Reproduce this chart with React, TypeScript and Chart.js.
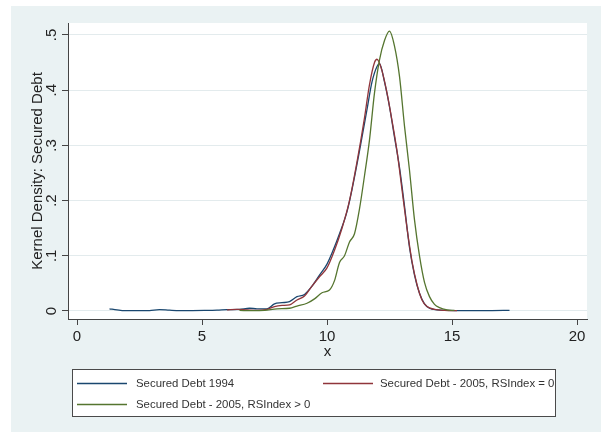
import React, { useEffect, useRef } from 'react';
import { Chart, registerables } from 'chart.js';

Chart.register(...registerables);

const xTicks = [0, 5, 10, 15, 20];
const yTicks = [0, 0.1, 0.2, 0.3, 0.4, 0.5];
const yTickLabels = ['0', '.1', '.2', '.3', '.4', '.5'];

const seriesNames = [
  'Secured Debt 1994',
  'Secured Debt - 2005, RSIndex = 0',
  'Secured Debt - 2005, RSIndex > 0',
];
const seriesColors = ['#1a476f', '#90353b', '#55752f'];

const blueX = [1.3, 1.6, 1.9, 2.4, 2.9, 3.3, 3.7, 4.1, 4.6, 5.1, 5.6, 6.0, 6.5, 6.9, 7.2, 7.6, 7.9, 8.2, 8.5, 8.8, 9.1, 9.4, 9.7, 10.0, 10.2, 10.5, 10.8, 11.0, 11.3, 11.6, 11.8, 12.0, 12.1, 12.3, 12.5, 12.7, 12.9, 13.1, 13.3, 13.5, 13.7, 13.9, 14.1, 14.4, 14.8, 15.4, 16.0, 16.6, 17.3];
const blueY = [0.004, 0.002, 0.0005, 0.0005, 0.0008, 0.0025, 0.0015, 0.0008, 0.0008, 0.001, 0.0015, 0.0025, 0.003, 0.005, 0.004, 0.004, 0.013, 0.015, 0.017, 0.026, 0.03, 0.045, 0.065, 0.085, 0.105, 0.14, 0.18, 0.22, 0.29, 0.365, 0.415, 0.443, 0.448, 0.415, 0.37, 0.315, 0.26, 0.19, 0.115, 0.065, 0.032, 0.013, 0.005, 0.002, 0.001, 0.0005, 0.0005, 0.0008, 0.0012];

const redX = [6.0, 6.4, 6.8, 7.2, 7.6, 7.9, 8.2, 8.5, 8.8, 9.1, 9.4, 9.7, 10.0, 10.3, 10.6, 10.9, 11.2, 11.5, 11.7, 11.9, 12.0, 12.2, 12.4, 12.6, 12.8, 13.0, 13.2, 13.4, 13.6, 13.8, 14.0, 14.3, 14.7, 15.2];
const redY = [0.002, 0.003, 0.002, 0.001, 0.003, 0.008, 0.01, 0.011, 0.02, 0.027, 0.045, 0.062, 0.078, 0.11, 0.15, 0.2, 0.27, 0.35, 0.41, 0.45, 0.456, 0.435, 0.395, 0.345, 0.29, 0.22, 0.15, 0.09, 0.048, 0.02, 0.008, 0.003, 0.001, 0.0005];

const greenX = [6.5, 7.0, 7.5, 8.0, 8.5, 8.8, 9.2, 9.5, 9.8, 10.1, 10.3, 10.5, 10.7, 10.9, 11.1, 11.3, 11.5, 11.7, 11.9, 12.1, 12.3, 12.5, 12.7, 12.9, 13.1, 13.3, 13.5, 13.7, 13.9, 14.1, 14.3, 14.5, 14.8, 15.1];
const greenY = [0.001, 0.0005, 0.001, 0.004, 0.005, 0.009, 0.014, 0.022, 0.033, 0.038, 0.055, 0.088, 0.1, 0.125, 0.14, 0.185, 0.245, 0.31, 0.395, 0.455, 0.49, 0.507, 0.48, 0.425, 0.335, 0.255, 0.165, 0.1, 0.052, 0.026, 0.012, 0.006, 0.002, 0.001];

const FONT = '"Liberation Sans", Arial, sans-serif';

const toPoints = (xs: number[], ys: number[]) => xs.map((x, i) => ({ x, y: ys[i] }));

const bgPlugin = {
  id: 'stataBg',
  beforeDraw(chart: any) {
    const { ctx, chartArea, width, height } = chart;
    ctx.save();
    ctx.fillStyle = '#ffffff';
    ctx.fillRect(0, 0, width, height);
    ctx.fillStyle = '#eaf2f3';
    ctx.fillRect(11, 6, width - 11, height - 6);
    ctx.fillStyle = '#ffffff';
    ctx.fillRect(chartArea.left, chartArea.top, chartArea.right - chartArea.left, chartArea.bottom - chartArea.top);
    ctx.restore();
  },
};

const legendPlugin = {
  id: 'stataLegend',
  afterDraw(chart: any) {
    const { ctx } = chart;
    const box = { l: 72, t: 369, r: 556, b: 417 };
    const slots = [
      { lx: 77, ty: 383, tx: 136 },
      { lx: 323, ty: 383, tx: 380 },
      { lx: 77, ty: 404, tx: 136 },
    ];
    ctx.save();
    ctx.fillStyle = '#ffffff';
    ctx.fillRect(box.l, box.t, box.r - box.l, box.b - box.t);
    ctx.beginPath();
    ctx.rect(box.l, box.t, box.r - box.l, box.b - box.t);
    ctx.clip();
    chart.data.datasets.forEach((ds: any, i: number) => {
      const s = slots[i];
      ctx.strokeStyle = ds.borderColor;
      ctx.lineWidth = 1.5;
      ctx.beginPath();
      ctx.moveTo(s.lx, s.ty + 0.5);
      ctx.lineTo(s.lx + 50, s.ty + 0.5);
      ctx.stroke();
      ctx.fillStyle = '#333333';
      ctx.font = `11.4px ${FONT}`;
      ctx.textBaseline = 'middle';
      ctx.textAlign = 'left';
      ctx.fillText(ds.label, s.tx, s.ty + 1);
    });
    ctx.restore();
    ctx.save();
    ctx.strokeStyle = '#4a4a4a';
    ctx.lineWidth = 1;
    ctx.strokeRect(box.l + 0.5, box.t + 0.5, box.r - box.l - 1, box.b - box.t - 1);
    ctx.restore();
  },
};

export default function App() {
  const ref = useRef<HTMLCanvasElement | null>(null);

  useEffect(() => {
    document.body.style.margin = '0';
    const canvas = ref.current;
    if (!canvas) return;
    const xs = [blueX, redX, greenX];
    const ys = [blueY, redY, greenY];
    const chart = new Chart(canvas, {
      type: 'line',
      data: {
        datasets: seriesNames.map((name, i) => ({
          label: name,
          data: toPoints(xs[i], ys[i]),
          borderColor: seriesColors[i],
          backgroundColor: seriesColors[i],
          borderWidth: 1.3,
          pointRadius: 0,
          fill: false,
          cubicInterpolationMode: 'monotone' as const,
          order: 2 - i,
        })),
      },
      options: {
        animation: false,
        responsive: false,
        devicePixelRatio: 1,
        layout: { padding: { left: 0, right: 14, top: 23, bottom: 68 } },
        plugins: {
          legend: { display: false },
          tooltip: { enabled: false },
        },
        scales: {
          x: {
            type: 'linear',
            min: -0.36,
            max: 20.4,
            afterBuildTicks: (s: any) => {
              s.ticks = xTicks.map((v) => ({ value: v }));
            },
            afterFit: (s: any) => {
              s.height = 45;
            },
            ticks: {
              autoSkip: false,
              maxRotation: 0,
              padding: 3,
              color: '#222222',
              font: { family: FONT, size: 15 },
            },
            grid: {
              drawOnChartArea: false,
              tickLength: 6,
              tickColor: '#444444',
            },
            border: { display: true, color: '#444444', width: 1 },
            title: {
              display: true,
              text: 'x',
              color: '#222222',
              font: { family: FONT, size: 15 },
              padding: { top: 0, bottom: 3 },
            },
          },
          y: {
            type: 'linear',
            min: -0.0145,
            max: 0.5217,
            afterBuildTicks: (s: any) => {
              s.ticks = yTicks.map((v) => ({ value: v }));
            },
            afterFit: (s: any) => {
              s.width = 68;
            },
            ticks: {
              autoSkip: false,
              minRotation: 90,
              maxRotation: 90,
              crossAlign: 'center',
              padding: 4,
              color: '#222222',
              font: { family: FONT, size: 15 },
              callback: (_v: any, i: number) => yTickLabels[i],
            },
            grid: {
              color: '#e3ebed',
              lineWidth: 1,
              tickLength: 6,
              tickColor: '#444444',
            },
            border: { display: true, color: '#444444', width: 1 },
            title: {
              display: true,
              text: 'Kernel Density: Secured Debt',
              color: '#222222',
              font: { family: FONT, size: 15 },
              padding: { top: 29, bottom: 0 },
            },
          },
        },
      },
      plugins: [bgPlugin, legendPlugin],
    });
    return () => chart.destroy();
  }, []);

  return (
    <div style={{ width: 601, height: 432 }}>
      <canvas ref={ref} width={601} height={432} style={{ display: 'block' }} />
    </div>
  );
}
